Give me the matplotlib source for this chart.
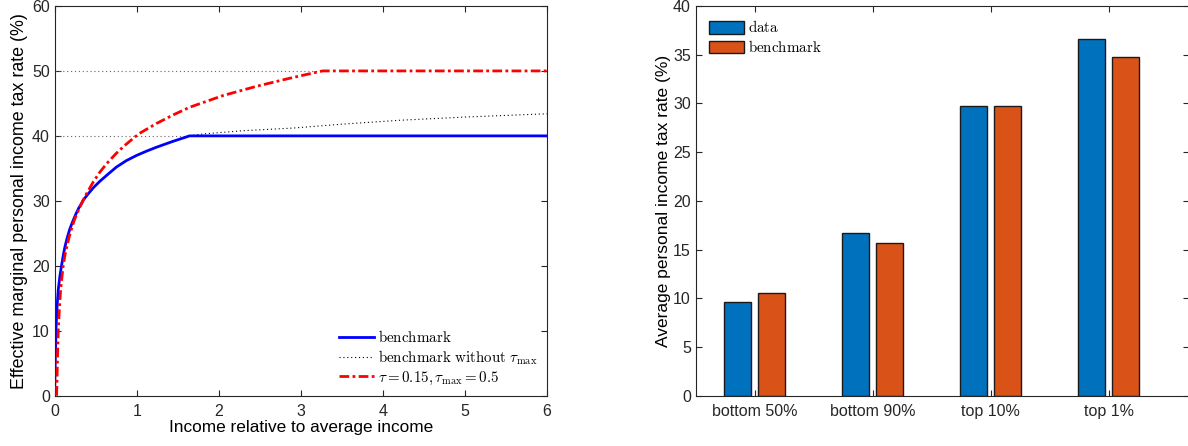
import numpy as np
import matplotlib.pyplot as plt

plt.rcParams['font.family'] = ['Liberation Sans', 'DejaVu Sans']
plt.rcParams['mathtext.fontset'] = 'cm'

# left panel: values
bench_x = [0.0, 0.008, 0.016, 0.03, 0.044, 0.065, 0.085, 0.105, 0.125, 0.155, 0.186,
           0.226, 0.26, 0.29, 0.328, 0.348, 0.41, 0.47, 0.55, 0.65, 0.753, 0.875,
           1.0, 1.12, 1.24, 1.44, 1.644, 6.0]
bench_y = [0.0, 5.5, 10.1, 13.8, 16.3, 18.5, 20.1, 21.6, 22.9, 24.4, 25.7,
           27.0, 28.0, 28.8, 29.6, 30.1, 31.1, 32.0, 33.0, 34.1, 35.2, 36.2,
           37.0, 37.65, 38.25, 39.15, 40.0, 40.0]

nocap_x = [1.644, 1.81, 2.3, 2.9, 3.5, 4.2, 5.0, 6.0]
nocap_y = [40.0, 40.3, 40.8, 41.2, 41.8, 42.4, 42.9, 43.4]

alt_x = [0.024, 0.034, 0.044, 0.058, 0.073, 0.09, 0.105, 0.128, 0.153, 0.18, 0.206,
         0.236, 0.267, 0.3, 0.33, 0.38, 0.47, 0.55, 0.632, 0.75, 0.834, 0.955,
         1.036, 1.24, 1.44, 1.644, 2.05, 2.45, 2.84, 3.05, 3.264, 6.0]
alt_y = [0.0, 5.5, 10.1, 13.5, 16.3, 18.4, 20.1, 21.8, 23.2, 24.6, 25.7,
         26.9, 27.9, 28.85, 29.65, 30.9, 32.9, 34.4, 35.7, 37.3, 38.3, 39.6,
         40.4, 41.9, 43.2, 44.4, 46.2, 47.6, 48.8, 49.4, 50.0, 50.0]

# right panel
groups = ['bottom 50%', 'bottom 90%', 'top 10%', 'top 1%']
data_rate = [9.65, 16.73, 29.7, 36.6]
bench_rate = [10.57, 15.68, 29.74, 34.8]

fig = plt.figure(figsize=(11.88, 4.46), dpi=100)
ax1 = fig.add_axes([0.046, 0.1128, 0.4144, 0.8738])
ax2 = fig.add_axes([0.5856, 0.1128, 0.4150, 0.8738])

# ---- left
ax1.plot([0, 1.644], [40, 40], color='0.4', ls=(0, (1, 2.5)), lw=0.8)
ax1.plot([0, 3.264], [50, 50], color='0.4', ls=(0, (1, 2.5)), lw=0.8)
ax1.plot(bench_x, bench_y, color='#0000ff', lw=2, label=r'$\mathrm{benchmark}$', zorder=3)
ax1.plot(nocap_x, nocap_y, color='k', ls=(0, (1, 2.5)), lw=0.8,
         label=r'$\mathrm{benchmark\ without}\ \tau_{\max}$')
ax1.plot(alt_x, alt_y, color='#ff0000', lw=2, ls=(0, (3.5, 1.2, 1, 1.2)),
         label=r'$\tau=0.15, \tau_{\max}=0.5$', zorder=4)
ax1.set_xlim(0, 6)
ax1.set_ylim(0, 60)
ax1.set_xticks(range(0, 7))
ax1.set_yticks(range(0, 61, 10))
ax1.set_xlabel('Income relative to average income', fontsize=12.4, labelpad=1)
ax1.set_ylabel('Effective marginal personal income tax rate (%)', fontsize=12.9, labelpad=3)
ax1.legend(loc='lower right', frameon=False, fontsize=10.8, handlelength=2.3,
           handletextpad=0.3, labelspacing=0.2, borderaxespad=0.2)

# ---- right
pos = np.arange(1, len(groups) + 1)
ax2.bar(pos - 0.143, data_rate, width=0.23, color='#0072BD', edgecolor='0.1',
        lw=1, label=r'$\mathrm{data}$')
ax2.bar(pos + 0.143, bench_rate, width=0.23, color='#D95319', edgecolor='0.1',
        lw=1, label=r'$\mathrm{benchmark}$')
ax2.set_xlim(0.5, 4.68)
ax2.set_ylim(0, 40)
ax2.set_xticks(pos)
ax2.set_xticklabels(groups)
ax2.set_yticks(range(0, 41, 5))
ax2.set_ylabel('Average personal income tax rate (%)', fontsize=12.5, labelpad=1.5)
ax2.legend(loc='upper left', frameon=False, fontsize=10.8, handlelength=2.3,
           handleheight=0.9, handletextpad=0.3, labelspacing=0.25,
           borderaxespad=0.6, borderpad=0.3)

for ax in (ax1, ax2):
    ax.tick_params(direction='in', top=True, right=True, labelsize=11.5,
                   color='0.15', labelcolor='0.15', length=4)
    ax.tick_params(axis='x', pad=6)
    ax.tick_params(axis='y', pad=3.5)
    for s in ax.spines.values():
        s.set_color('0.15')
        s.set_linewidth(0.8)

fig.savefig('out.png', dpi=100)
